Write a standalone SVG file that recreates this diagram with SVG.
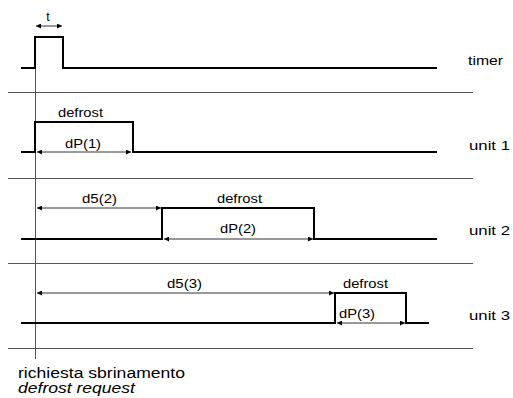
<svg xmlns="http://www.w3.org/2000/svg" width="513" height="398" viewBox="0 0 513 398">
<style>
.sep{stroke:#555;stroke-width:1;fill:none}
.wave{stroke:#000;stroke-width:2;fill:none}
.dim{stroke:#333;stroke-width:1;fill:none;marker-start:url(#a);marker-end:url(#a)}
text{font-family:"Liberation Sans",Arial,sans-serif;fill:#000}
.lbl{font-size:12.5px}
.side{font-size:13.5px}
.cap{font-size:14px}
</style>
<defs>
<marker id="a" viewBox="0 0 10 10" refX="10" refY="5" markerWidth="7" markerHeight="5" orient="auto-start-reverse" markerUnits="userSpaceOnUse"><path d="M0,0 L10,5 L0,10 z" fill="#000"/></marker>
</defs>
<g id="grid">
<line class="sep" x1="8" y1="92.5" x2="473" y2="92.5"/>
<line class="sep" x1="8" y1="178.5" x2="473" y2="178.5"/>
<line class="sep" x1="8" y1="263.5" x2="473" y2="263.5"/>
<line class="sep" x1="8" y1="348.5" x2="473" y2="348.5"/>
</g>
<g id="request-line">
<line class="sep" x1="35.5" y1="36" x2="35.5" y2="359"/>
</g>
<g id="timer">
<polyline class="wave" points="21,68 35,68 35,37 63,37 63,68 437,68"/>
<text class="side" x="468" y="65" textLength="35" lengthAdjust="spacingAndGlyphs">timer</text>
</g>
<g id="unit1">
<polyline class="wave" points="21,152 35,152 35,122 133,122 133,152 437,152"/>
<text class="lbl" x="58" y="117" textLength="45" lengthAdjust="spacingAndGlyphs">defrost</text>
<text class="lbl" x="65" y="148" textLength="36" lengthAdjust="spacingAndGlyphs">dP(1)</text>
<text class="side" x="469" y="150" textLength="41" lengthAdjust="spacingAndGlyphs">unit 1</text>
</g>
<g id="unit2">
<polyline class="wave" points="21,239 162,239 162,208 314,208 314,239 437,239"/>
<text class="lbl" x="82" y="203" textLength="35" lengthAdjust="spacingAndGlyphs">d5(2)</text>
<text class="lbl" x="217" y="203" textLength="45" lengthAdjust="spacingAndGlyphs">defrost</text>
<text class="lbl" x="220" y="233" textLength="36" lengthAdjust="spacingAndGlyphs">dP(2)</text>
<text class="side" x="469" y="235" textLength="41" lengthAdjust="spacingAndGlyphs">unit 2</text>
</g>
<g id="unit3">
<polyline class="wave" points="21,323 335,323 335,293 406,293 406,323 429,323"/>
<text class="lbl" x="167" y="288" textLength="35" lengthAdjust="spacingAndGlyphs">d5(3)</text>
<text class="lbl" x="343" y="288" textLength="45" lengthAdjust="spacingAndGlyphs">defrost</text>
<text class="lbl" x="339" y="318" textLength="36" lengthAdjust="spacingAndGlyphs">dP(3)</text>
<text class="side" x="469" y="320" textLength="41" lengthAdjust="spacingAndGlyphs">unit 3</text>
</g>
<g id="connectors">
<line class="dim" x1="36" y1="26" x2="62" y2="26"/>
<text class="lbl" x="48" y="21" text-anchor="middle">t</text>
<line class="dim" x1="37" y1="152" x2="131" y2="152"/>
<line class="dim" x1="37" y1="208" x2="161" y2="208"/>
<line class="dim" x1="164" y1="239" x2="313" y2="239"/>
<line class="dim" x1="37" y1="293" x2="334" y2="293"/>
<line class="dim" x1="337" y1="323" x2="405" y2="323"/>
</g>
<g id="caption">
<text class="cap" x="18" y="378" textLength="167" lengthAdjust="spacingAndGlyphs">richiesta sbrinamento</text>
<text class="cap" x="18" y="393" font-style="italic" textLength="117" lengthAdjust="spacingAndGlyphs">defrost request</text>
</g>
</svg>
